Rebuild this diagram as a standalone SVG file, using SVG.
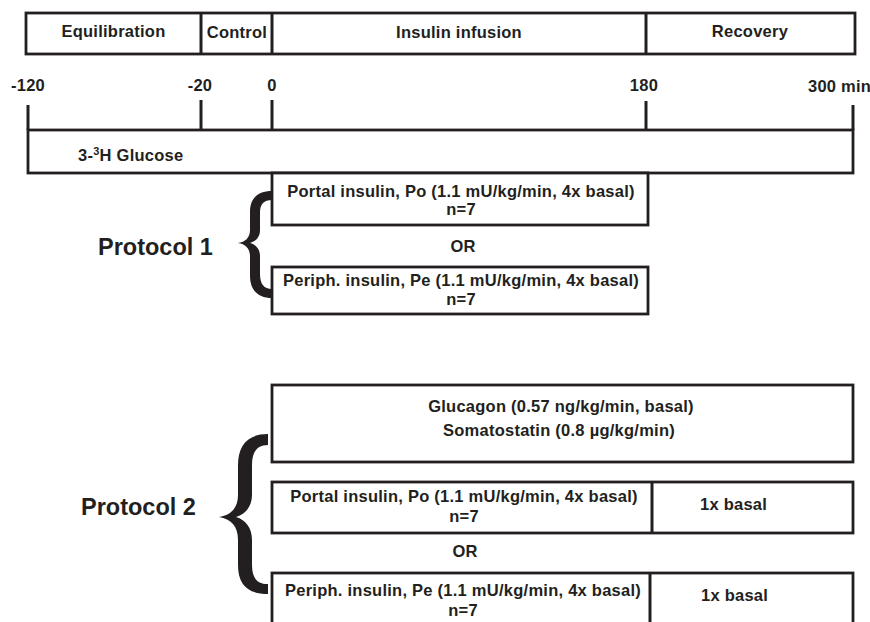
<svg xmlns="http://www.w3.org/2000/svg" width="870" height="622" viewBox="0 0 870 622">
<style>
.t{font-family:"Liberation Sans",Arial,sans-serif;font-weight:bold;font-size:16.5px;letter-spacing:0.25px;fill:#231f20}
.c{text-anchor:middle}
.p{font-family:"Liberation Sans",Arial,sans-serif;font-weight:bold;font-size:23.5px;fill:#231f20}
.b{fill:#fff;stroke:#231f20;stroke-width:2.8}
.l{stroke:#231f20;stroke-width:3;fill:none}
.br{fill:#231f20}
</style>
<rect width="870" height="622" fill="#fff"/>
<g id="timeline">
<rect class="b" x="26" y="13" width="829" height="41" stroke-width="3.2"/>
<line class="l" x1="201" y1="13" x2="201" y2="54"/>
<line class="l" x1="272" y1="13" x2="272" y2="54"/>
<line class="l" x1="646" y1="13" x2="646" y2="54"/>
<text class="t c" x="113.5" y="37">Equilibration</text>
<text class="t c" x="237" y="38">Control</text>
<text class="t c" x="459" y="38">Insulin infusion</text>
<text class="t c" x="750" y="37">Recovery</text>
</g>
<g id="ticks">
<text class="t c" x="28" y="91">-120</text>
<text class="t c" x="200" y="91">-20</text>
<text class="t c" x="272" y="91">0</text>
<text class="t c" x="644" y="91">180</text>
<text class="t" x="808" y="92">300 min</text>
</g>
<g id="glucose">
<rect class="b" x="28" y="130" width="825" height="43"/>
<text class="t" x="78" y="161">3-<tspan font-size="11" dy="-6">3</tspan><tspan dy="6">H Glucose</tspan></text>
</g>
<g id="protocol1">
<text class="p" x="98" y="255">Protocol 1</text>
</g>
<g id="p1-po">
<rect class="b" x="272" y="173" width="376" height="52"/>
<text class="t c" x="461" y="197">Portal insulin, Po (1.1 mU/kg/min, 4x basal)</text>
<text class="t c" x="461" y="215">n=7</text>
</g>
<text class="t c" x="463" y="252">OR</text>
<g id="p1-pe">
<rect class="b" x="272" y="267" width="376" height="47"/>
<text class="t c" x="461" y="286">Periph. insulin, Pe (1.1 mU/kg/min, 4x basal)</text>
<text class="t c" x="461" y="305">n=7</text>
</g>
<g id="protocol2">
<text class="p" x="81" y="515">Protocol 2</text>
</g>
<g id="p2-glucagon">
<rect class="b" x="272" y="385" width="581" height="77"/>
<text class="t c" x="561" y="412">Glucagon (0.57 ng/kg/min, basal)</text>
<text class="t c" x="559" y="436">Somatostatin (0.8 µg/kg/min)</text>
</g>
<g id="p2-po">
<rect class="b" x="272" y="482" width="581" height="51"/>
<line class="l" x1="652" y1="482" x2="652" y2="533"/>
<text class="t c" x="464" y="502">Portal insulin, Po (1.1 mU/kg/min, 4x basal)</text>
<text class="t c" x="464" y="522">n=7</text>
<text class="t" x="700" y="510">1x basal</text>
</g>
<text class="t c" x="465" y="557">OR</text>
<g id="p2-pe">
<rect class="b" x="272" y="573" width="581" height="54"/>
<line class="l" x1="650" y1="573" x2="650" y2="627"/>
<text class="t c" x="463" y="596">Periph. insulin, Pe (1.1 mU/kg/min, 4x basal)</text>
<text class="t c" x="463" y="616">n=7</text>
<text class="t" x="701" y="601">1x basal</text>
</g>
<g id="connectors">
<line class="l" x1="28" y1="105" x2="28" y2="130"/>
<line class="l" x1="201" y1="100" x2="201" y2="130"/>
<line class="l" x1="272" y1="100" x2="272" y2="130"/>
<line class="l" x1="646" y1="101" x2="646" y2="130"/>
<line class="l" x1="853" y1="105" x2="853" y2="130"/>
<path class="br" d="M272,191 C258,191 250,198 250,212 L250,230 C250,238 245,242 238,243 C245,244 250,248 250,256 L250,276 C250,290 258,298 272,298 L272,289 C264,289 260,284 260,274 L260,256 C260,250 257,245 250,243 C257,241 260,236 260,230 L260,212 C260,204 264,200 272,200 Z"/>
<path class="br" d="M268,434 C248,434 238,445 238,465 L238,495 C238,508 231,515 219,517 C231,519 238,526 238,540 L238,565 C238,585 248,594 268,594 L268,584 C257,584 252,578 252,565 L252,540 C252,528 246,520 236,517 C246,514 252,506 252,495 L252,465 C252,452 257,445 268,445 Z"/>
</g>
</svg>
